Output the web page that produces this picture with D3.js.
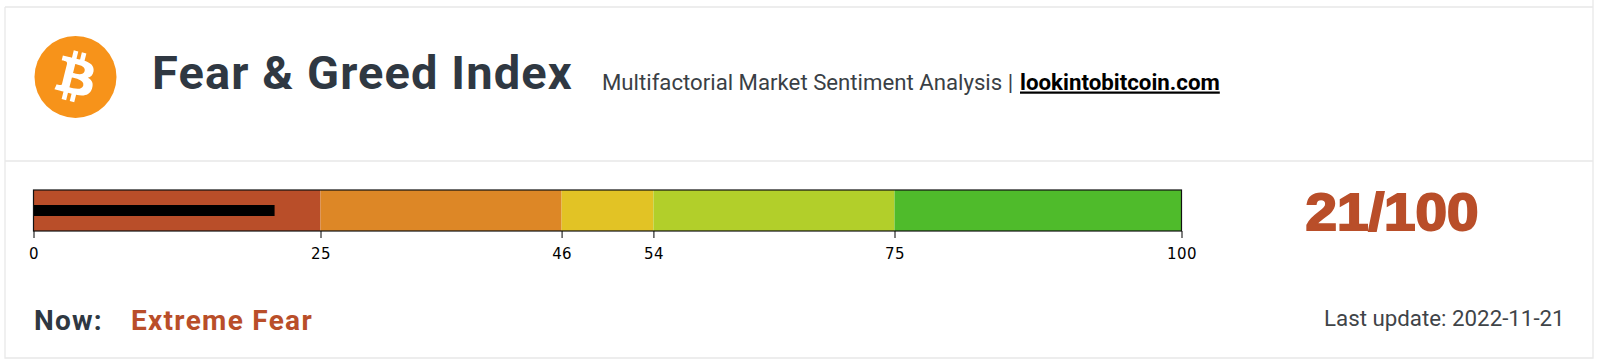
<!DOCTYPE html>
<html>
<head>
<meta charset="utf-8">
<script src="https://cdn.jsdelivr.net/npm/d3@7"></script>
<style>
    html, body { margin: 0; padding: 0; background: #fff; }
    svg { display: block; }
    .gauge-axis path { display: none; }
    .gauge-axis line { stroke: #000; }
    .gauge-axis text { font-family: "DejaVu Sans", sans-serif; font-size: 15px; letter-spacing: 0.4px; fill: #000; }
    .roboto { font-family: Roboto, sans-serif; }
</style>
</head>
<body>
<div id="chart"></div>
<script>
const zoneStarts = [0, 25, 46, 54, 75];
const zoneEnds = [25, 46, 54, 75, 100];
const zoneColors = ["#b94e29", "#dd8726", "#e2c325", "#b2cf2a", "#4fbb2b"];
const tickValues = [0, 25, 46, 54, 75, 100];
const currentValue = [21];
const maxValue = 100;
const bitcoinPath = "M46.1 27.441c.636-4.258-2.606-6.547-7.039-8.074l1.438-5.768-3.512-.875-1.4 5.616c-.922-.23-1.87-.447-2.812-.662l1.41-5.653-3.509-.875-1.439 5.766c-.764-.174-1.514-.346-2.242-.527l.004-.018-4.842-1.209-.934 3.75s2.605.597 2.55.634c1.422.355 1.68 1.296 1.636 2.042l-1.638 6.571c.098.025.225.061.365.117l-.37-.092-2.297 9.205c-.174.432-.615 1.08-1.609.834.035.051-2.552-.637-2.552-.637l-1.743 4.02 4.57 1.139c.85.213 1.683.436 2.502.646l-1.453 5.835 3.507.875 1.44-5.772c.957.26 1.887.5 2.797.726L27.504 50.8l3.511.875 1.453-5.823c5.987 1.133 10.49.676 12.383-4.738 1.527-4.36-.075-6.875-3.225-8.516 2.294-.531 4.022-2.04 4.483-5.157zM38.08 38.69c-1.086 4.36-8.426 2.004-10.807 1.412l1.928-7.729c2.38.594 10.011 1.77 8.88 6.317zm1.085-11.312c-.99 3.966-7.1 1.951-9.083 1.457l1.748-7.01c1.983.494 8.367 1.416 7.335 5.553z";

const svg = d3.select("#chart").append("svg")
    .attr("width", 1600)
    .attr("height", 362);

// card frame and header divider
svg.append("path")
    .attr("d", "M5 7H1593M5 7V358H1593V0M5 161H1593")
    .attr("fill", "none")
    .attr("stroke", "#e8e8e8")
    .attr("stroke-width", 1.3);

// logo
const logo = svg.append("g").attr("transform", "translate(34.5,36) scale(1.281)");
logo.append("circle").attr("cx", 32).attr("cy", 32).attr("r", 32).attr("fill", "#f7931a");
logo.append("path").attr("d", bitcoinPath).attr("fill", "#fff");

function label(x, y, text, size, weight, color) {
    return svg.append("text")
        .attr("class", "roboto")
        .attr("x", x)
        .attr("y", y)
        .attr("font-size", size)
        .attr("font-weight", weight)
        .attr("fill", color)
        .text(text);
}

label(152, 89, "Fear & Greed Index", 47, 700, "#2f3842").attr("letter-spacing", 1.1);
label(602, 89.5, "Multifactorial Market Sentiment Analysis |", 22.2, 400, "#3a3f45");
label(1020, 89.5, "lookintobitcoin.com", 22.3, 700, "#000").attr("text-decoration", "underline");

// gauge
const xScale = d3.scaleLinear().domain([0, maxValue]).range([33.5, 1181.5]);
const gaugeTop = 190;
const gaugeBottom = 231;

svg.append("g").selectAll("rect")
    .data(zoneStarts)
    .join("rect")
    .attr("x", d => xScale(d))
    .attr("y", gaugeTop)
    .attr("width", (d, i) => xScale(zoneEnds[i]) - xScale(d))
    .attr("height", gaugeBottom - gaugeTop)
    .attr("fill", (d, i) => zoneColors[i]);

svg.append("g").selectAll("rect")
    .data(currentValue)
    .join("rect")
    .attr("x", xScale(0))
    .attr("y", 205)
    .attr("width", d => xScale(d) - xScale(0))
    .attr("height", 11)
    .attr("fill", "#000");

svg.append("rect")
    .attr("x", xScale(0))
    .attr("y", gaugeTop)
    .attr("width", xScale(maxValue) - xScale(0))
    .attr("height", gaugeBottom - gaugeTop)
    .attr("fill", "none")
    .attr("stroke", "#111")
    .attr("stroke-width", 1.2);

svg.append("g")
    .attr("class", "gauge-axis")
    .attr("transform", "translate(0," + gaugeBottom + ")")
    .call(d3.axisBottom(xScale).tickValues(tickValues).tickFormat(d3.format("d")).tickSize(7).tickPadding(10.5));

// score
svg.append("text")
    .attr("x", 1392)
    .attr("y", 230)
    .attr("text-anchor", "middle")
    .attr("font-family", "'Liberation Sans', sans-serif")
    .attr("font-size", 51)
    .attr("font-weight", 700)
    .attr("textLength", 173)
    .attr("lengthAdjust", "spacingAndGlyphs")
    .attr("fill", "#b94e29")
    .attr("stroke", "#b94e29")
    .attr("stroke-width", 2)
    .text(currentValue[0] + "/" + maxValue);

// footer
label(34, 330, "Now:", 28, 700, "#2f3842").attr("letter-spacing", 1.2);
label(131, 330, "Extreme Fear", 28, 700, "#b94e29").attr("letter-spacing", 1.3);
label(1324, 326, "Last update: 2022-11-21", 22.3, 400, "#3f4448");
</script>
</body>
</html>
